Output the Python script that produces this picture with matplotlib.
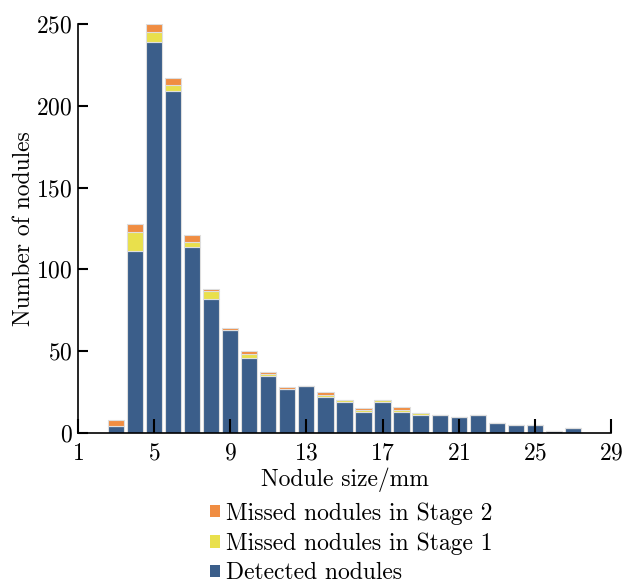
import numpy as np
import matplotlib
matplotlib.use("Agg")
import matplotlib.pyplot as plt
from matplotlib.patches import Patch

plt.rcParams['font.family'] = 'cmr10'
plt.rcParams['mathtext.fontset'] = 'cm'
plt.rcParams['axes.formatter.use_mathtext'] = True

# nodule size (mm) and counts per class
sizes = [3, 4, 5, 6, 7, 8, 9, 10, 11, 12, 13, 14, 15, 16, 17,
         18, 19, 20, 21, 22, 23, 24, 25, 26, 27]
detected = [4, 111, 239, 209, 114, 82, 63, 46, 35, 27, 29, 22, 19, 13, 19,
            13, 11, 11, 10, 11, 6, 5, 5, 1, 3]
missed_s1 = [0, 12, 6, 4, 3, 5, 0, 2, 1, 0, 0, 1, 1, 1, 1,
             1, 1, 0, 0, 0, 0, 0, 0, 0, 0]
missed_s2 = [4, 5, 5, 4, 4, 1, 1, 2, 1, 1, 0, 2, 0, 1, 0,
             2, 0, 0, 0, 0, 0, 0, 0, 0, 0]

c_det = '#3b5e8a'
c_s1 = '#e9e04c'
c_s2 = '#f08d42'
edge = '#dedede'
fs = 17

fig = plt.figure(figsize=(6.24, 5.83), dpi=100)
ax = fig.add_axes([0.125, 0.2573, 0.854, 0.7015])

det = np.array(detected)
s1 = np.array(missed_s1)
s2 = np.array(missed_s2)
w = 0.85
ax.bar(sizes, det, width=w, color=c_det, edgecolor=edge, linewidth=0.8)
ax.bar(sizes, s1, width=w, bottom=det, color=c_s1, edgecolor=edge, linewidth=0.8)
ax.bar(sizes, s2, width=w, bottom=det + s1, color=c_s2, edgecolor=edge, linewidth=0.8)

ax.set_xlim(1, 29)
ax.set_ylim(0, 250)
ax.set_xticks(range(1, 30, 4))
ax.set_yticks(range(0, 251, 50))
ax.spines['top'].set_visible(False)
ax.spines['right'].set_visible(False)
ax.tick_params(axis='x', direction='in', length=10, width=1.5, labelsize=fs, pad=7)
ax.tick_params(axis='y', direction='in', length=7, width=1.5, labelsize=fs, pad=4)
for sp in ax.spines.values():
    sp.set_linewidth(1.2)

ax.set_xlabel('Nodule size/mm', fontsize=fs, labelpad=2)
ax.set_ylabel('Number of nodules', fontsize=fs, labelpad=1)

handles = [Patch(facecolor=c_s2), Patch(facecolor=c_s1), Patch(facecolor=c_det)]
labels = ['Missed nodules in Stage 2', 'Missed nodules in Stage 1', 'Detected nodules']
ax.legend(handles, labels, loc='upper left', bbox_to_anchor=(0.225, -0.14),
          frameon=False, fontsize=fs, handlelength=0.45, handleheight=0.45,
          handletextpad=0.25, labelspacing=0.32, borderpad=0)

fig.savefig('out.png', dpi=100)
